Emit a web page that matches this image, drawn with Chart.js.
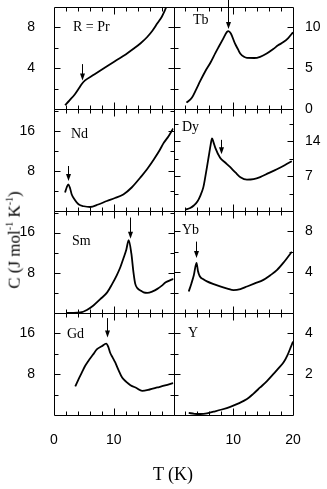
<!DOCTYPE html>
<html>
<head>
<meta charset="utf-8">
<script src="https://cdn.jsdelivr.net/npm/chart.js@4.4.1/dist/chart.umd.min.js"></script>
<style>
  html, body { margin: 0; padding: 0; background: #fff; }
  #wrap { position: relative; width: 327px; height: 489px; overflow: hidden; }
  #wrap canvas { position: absolute; left: 0; top: 0; }
  .lbl { position: absolute; font-family: "Liberation Serif", serif; font-size: 14px; line-height: 16px; color: #000; white-space: nowrap; }
  .ttl { position: absolute; font-family: "Liberation Serif", serif; color: #000; white-space: nowrap; }
  .ttl sup { font-size: 10px; }
</style>
</head>
<body>
<div id="wrap">
  <canvas id="chartC" width="327" height="489"></canvas>
  <div class="lbl" style="left:73px;top:19px">R = Pr</div>
  <div class="lbl" style="left:193px;top:12px">Tb</div>
  <div class="lbl" style="left:71px;top:126px">Nd</div>
  <div class="lbl" style="left:182px;top:119px">Dy</div>
  <div class="lbl" style="left:72px;top:233px">Sm</div>
  <div class="lbl" style="left:182px;top:222px">Yb</div>
  <div class="lbl" style="left:67px;top:326px">Gd</div>
  <div class="lbl" style="left:188px;top:325px">Y</div>
  <div class="ttl" style="left:14px;top:240px;font-size:17px;transform:translate(-50%,-50%) rotate(-90deg)">C (J mol<sup>-1</sup> K<sup>-1</sup>)</div>
  <div class="ttl" style="left:173px;top:474px;font-size:18px;transform:translate(-50%,-50%)">T (K)</div>
</div>
<script>
// temperature (K) / heat capacity (J mol-1 K-1)
const prT = [1.85, 2.6, 3.5, 4.2, 4.65, 5.2, 6.5, 7.7, 9, 10.5, 12, 13.3, 14.5, 15.6, 16.5, 17.3, 18.0, 18.5, 19];
const prC = [0.37, 0.85, 1.45, 2.05, 2.45, 2.8, 3.3, 3.76, 4.25, 4.8, 5.35, 5.9, 6.45, 7.06, 7.7, 8.4, 9.0, 9.6, 10.3];

const tbT = [2.17, 3.1, 3.8, 4.5, 5.3, 6.2, 7.0, 7.55, 8.3, 8.95, 9.2, 9.6, 10.3, 10.8, 11.2, 11.8, 12.3, 13.5, 14.5, 15.6, 16.7, 17.5, 18.4, 19.2, 20];
const tbC = [0.78, 1.4, 2.4, 3.47, 4.6, 5.7, 6.85, 7.6, 8.6, 9.45, 9.55, 9.25, 8.0, 7.3, 6.77, 6.4, 6.27, 6.25, 6.4, 6.8, 7.35, 7.8, 8.2, 8.7, 9.4];

const ndT = [1.85, 2.15, 2.4, 2.7, 2.97, 3.5, 4.1, 5.0, 6.05, 7.4, 8.85, 10.2, 11.6, 13.0, 14.45, 15.6, 16.7, 17.6, 18.4, 19.2, 19.95];
const ndC = [3.7, 4.8, 5.3, 4.5, 3.3, 2.2, 1.34, 0.95, 0.8, 1.3, 2.0, 2.6, 3.3, 4.7, 6.7, 8.4, 10.3, 12.0, 13.7, 15.0, 16.5];

const dyT = [2.0, 2.8, 3.4, 4.0, 4.5, 5.0, 5.3, 5.6, 5.9, 6.2, 6.45, 6.7, 7.0, 7.8, 8.6, 9.5, 10.4, 11.2, 12.3, 13.4, 14.5, 15.9, 17.3, 18.6, 19.8];
const dyC = [0.3, 0.6, 1.1, 1.9, 3.1, 4.8, 6.7, 8.8, 11, 13.2, 14.6, 13.8, 12.7, 10.7, 9.8, 8.8, 7.7, 6.8, 6.3, 6.4, 6.8, 7.6, 8.4, 9.2, 10];

const smT = [2.1, 3.0, 4.4, 5.5, 6.6, 7.7, 8.9, 9.7, 10.5, 11.1, 11.6, 12.1, 12.5, 12.95, 13.3, 13.6, 14.0, 14.45, 15.0, 15.6, 16.5, 17.3, 18.0, 18.7, 19.4, 20];
const smC = [0, 0.02, 0.1, 0.6, 1.5, 2.7, 4.1, 5.7, 7.5, 9.1, 10.8, 12.6, 14.5, 11.8, 8.1, 5.8, 4.9, 4.5, 4.1, 4.0, 4.3, 4.8, 5.4, 6.1, 6.5, 6.8];

const ybT = [2.55, 3.0, 3.4, 3.85, 4.1, 4.4, 5.0, 5.6, 6.6, 7.8, 9.0, 10.05, 11.2, 12.3, 13.6, 15.05, 16.2, 17.3, 18.5, 19.8];
const ybC = [2.1, 2.9, 3.7, 4.9, 4.1, 3.6, 3.3, 3.1, 2.85, 2.6, 2.4, 2.25, 2.35, 2.6, 2.9, 3.25, 3.7, 4.2, 5.0, 6.0];

const gdT = [3.55, 4.1, 4.65, 5.2, 5.75, 6.5, 7.2, 8.0, 8.75, 9.1, 9.4, 9.8, 10.25, 10.8, 11.4, 12.1, 12.8, 13.8, 14.75, 16.0, 17.3, 18.6, 19.95];
const gdC = [5.6, 7.0, 8.3, 9.6, 10.6, 11.8, 12.9, 13.5, 14.0, 13.3, 12.2, 11.3, 10.3, 8.8, 7.35, 6.5, 5.85, 5.3, 4.75, 5.0, 5.4, 5.8, 6.25];

const yT = [2.55, 3.5, 4.5, 5.6, 6.7, 8.1, 9.5, 10.9, 12.3, 13.4, 14.5, 15.6, 16.7, 17.6, 18.4, 19.1, 19.7, 20];
const yC = [0.1, 0.06, 0.05, 0.08, 0.16, 0.27, 0.4, 0.57, 0.78, 1.05, 1.35, 1.65, 2.0, 2.3, 2.57, 2.95, 3.38, 3.6];

// panels in reading order (left, right, left, right ...)
const panelNames = ['Pr', 'Tb', 'Nd', 'Dy', 'Sm', 'Yb', 'Gd', 'Y'];
const panelT = [prT, tbT, ndT, dyT, smT, ybT, gdT, yT];
const panelC = [prC, tbC, ndC, dyC, smC, ybC, gdC, yC];

// y axis of each panel
const yMax = [10, 12.5, 20.4, 20.5, 20.3, 10, 20, 5];
const yStep = [2, 2.5, 4, 3.5, 4, 2, 4, 1];
const yLabels = [[4, 8], [0, 5, 10], [8, 16], [7, 14], [8, 16], [4, 8], [8, 16], [2, 4]];

// shared T axis per column
const tMax = 20;
const tStep = 2;
const tLabelsLeft = [0, 10];
const tLabelsRight = [10, 20];
const tMajor = [10];

// transition arrows: T position, from C, to C
const arrowT = [4.65, 9.2, 2.4, 8.0, 12.7, 3.7, 8.85, null];
const arrowFrom = [4.4, 13.4, 9.0, 14.3, 19.0, 7.0, 19.0, null];
const arrowTo = [2.8, 9.8, 6.0, 11.4, 14.8, 5.4, 15.2, null];

const hasVal = (list, v) => list.some(l => Math.abs(l - v) < 1e-6);

const scales = {};
// x axes, stacked side by side under the two columns
['xL', 'xR'].forEach((id, col) => {
    const lbls = col === 0 ? tLabelsLeft : tLabelsRight;
    scales[id] = {
        type: 'linear',
        position: 'bottom',
        stack: 'trow',
        weight: col + 1,
        min: 0,
        max: tMax,
        grid: { display: false },
        border: { display: false },
        ticks: {
            stepSize: tStep,
            autoSkip: false,
            maxRotation: 0,
            includeBounds: false,
            padding: 9,
            color: '#000',
            font: { family: 'Liberation Sans', size: 14 },
            callback: v => hasVal(lbls, v) ? String(v) : ''
        },
        afterFit: s => {
            s.height = 74;
            s.paddingLeft = 0;
            s.paddingRight = 0;
        }
    };
});
// y axes, stacked in each column
panelNames.forEach((n, i) => {
    const col = i % 2, row = Math.floor(i / 2);
    scales['y' + i] = {
        type: 'linear',
        position: col === 0 ? 'left' : 'right',
        stack: col === 0 ? 'colL' : 'colR',
        weight: col === 0 ? 4 - row : row + 1,
        min: 0,
        max: yMax[i],
        grid: { display: false },
        border: { display: false },
        ticks: {
            stepSize: yStep[i],
            autoSkip: false,
            includeBounds: false,
            padding: col === 0 ? 11 : 4,
            color: '#000',
            font: { family: 'Liberation Sans', size: 14 },
            callback: v => hasVal(yLabels[i], v) ? String(v) : ''
        },
        afterFit: s => {
            s.width = col === 0 ? 54 : 34;
            s.paddingTop = 0;
            s.paddingBottom = 0;
        }
    };
});

const datasets = panelNames.map((n, i) => ({
    label: n,
    data: panelT[i].map((t, k) => ({ x: t, y: panelC[i][k] })),
    xAxisID: i % 2 === 0 ? 'xL' : 'xR',
    yAxisID: 'y' + i,
    borderColor: '#000',
    borderWidth: 1.8,
    pointRadius: 0,
    cubicInterpolationMode: 'monotone',
    fill: false
}));

// frames, inward ticks and arrows, all placed through the scales
const framePlugin = {
    id: 'panelFrames',
    afterDatasetsDraw(chart) {
        const ctx = chart.ctx;
        ctx.save();
        ctx.strokeStyle = '#000';
        ctx.fillStyle = '#000';
        ctx.lineWidth = 1;
        panelNames.forEach((n, i) => {
            const xs = chart.scales[i % 2 === 0 ? 'xL' : 'xR'];
            const ys = chart.scales['y' + i];
            const l = Math.round(xs.left) + 0.5, r = Math.round(xs.right) + 0.5;
            const t = Math.round(ys.top) + 0.5, b = Math.round(ys.bottom) + 0.5;
            ctx.beginPath();
            ctx.rect(l, t, r - l, b - t);
            // y ticks on both sides
            ys.ticks.forEach(tk => {
                if (tk.value <= 0 || tk.value >= yMax[i] - 1e-6) return;
                const py = Math.round(ys.getPixelForValue(tk.value)) + 0.5;
                const len = hasVal(yLabels[i], tk.value) ? 6 : 4;
                ctx.moveTo(l, py); ctx.lineTo(l + len, py);
                ctx.moveTo(r, py); ctx.lineTo(r - len, py);
            });
            // T ticks at top and bottom
            xs.ticks.forEach(tk => {
                if (tk.value <= 0 || tk.value >= tMax) return;
                const px = Math.round(xs.getPixelForValue(tk.value)) + 0.5;
                const len = hasVal(tMajor, tk.value) ? 7 : 4;
                ctx.moveTo(px, t); ctx.lineTo(px, t + len);
                ctx.moveTo(px, b); ctx.lineTo(px, b - len);
            });
            ctx.stroke();
            if (arrowT[i] !== null) {
                const ax = Math.round(xs.getPixelForValue(arrowT[i])) + 0.5;
                const y1 = ys.getPixelForValue(arrowFrom[i]);
                const y2 = ys.getPixelForValue(arrowTo[i]);
                ctx.beginPath();
                ctx.moveTo(ax, y1); ctx.lineTo(ax, y2 - 4);
                ctx.stroke();
                ctx.beginPath();
                ctx.moveTo(ax - 2.5, y2 - 7);
                ctx.lineTo(ax, y2);
                ctx.lineTo(ax + 2.5, y2 - 7);
                ctx.closePath();
                ctx.fill();
            }
        });
        ctx.restore();
    }
};

new Chart(document.getElementById('chartC'), {
    type: 'line',
    data: { datasets },
    options: {
        responsive: false,
        animation: false,
        layout: { padding: { top: 7, left: 0, right: 0, bottom: 0 } },
        plugins: {
            legend: { display: false },
            tooltip: { enabled: false }
        },
        scales
    },
    plugins: [framePlugin]
});
</script>
</body>
</html>
